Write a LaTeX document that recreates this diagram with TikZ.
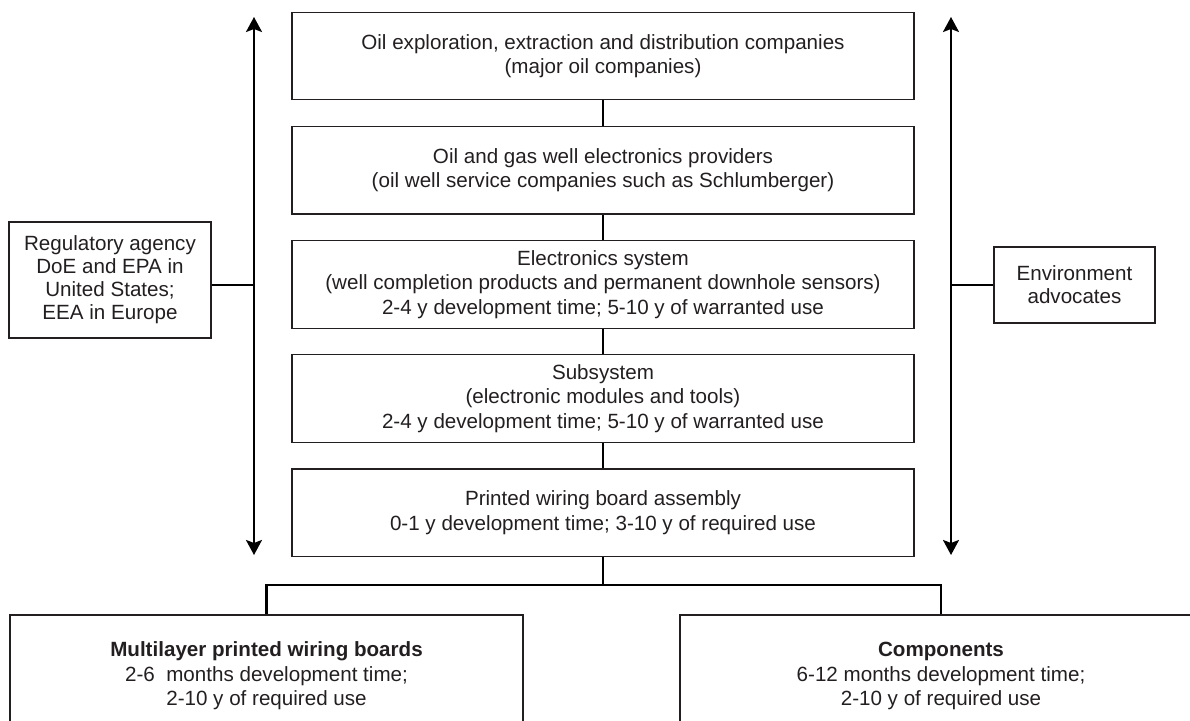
\documentclass[tikz,border=0pt]{standalone}
\usepackage{fontspec}
\setmainfont{Liberation Sans}
\usetikzlibrary{arrows.meta,positioning,calc}
\definecolor{inkgray}{RGB}{35,31,32}
\tikzset{
    tier/.style={
        draw=inkgray,
        line width=0.6pt,
        minimum width=311pt,
        minimum height=43.75pt,
        inner sep=0pt,
        align=center,
        text=inkgray,
        font=\fontsize{10.3}{12.2}\selectfont,
    },
    actor/.style={
        tier,
        minimum width=80pt,
        font=\fontsize{10.3}{11.5}\selectfont,
    },
    wire/.style={
        line width=1.1pt,
        draw=black,
    },
}
\begin{document}
\begin{tikzpicture}[x=0.5pt,y=-0.5pt,node distance=12.75pt,>={Stealth[length=7.5pt,width=8pt,inset=1.5pt]}]
    \useasboundingbox (0,0) rectangle (1190,721);
    \clip (0,0) rectangle (1190,721);
    % supply chain
    \node [tier] (oilco) at (603,56) {Oil exploration, extraction and distribution companies\\(major oil companies)};
    \node [tier] (wellsvc) [below=of oilco] {Oil and gas well electronics providers\\(oil well service companies such as Schlumberger)};
    \node [tier] (esys) [below=of wellsvc] {Electronics system\\(well completion products and permanent downhole sensors)\\2-4 y development time; 5-10 y of warranted use};
    \node [tier] (subsys) [below=of esys] {Subsystem\\(electronic modules and tools)\\2-4 y development time; 5-10 y of warranted use};
    \node [tier] (pwba) [below=of subsys] {Printed wiring board assembly\\0-1 y development time; 3-10 y of required use};
    \foreach \upper/\lower in {oilco/wellsvc,wellsvc/esys,esys/subsys,subsys/pwba}
        \draw [wire] (\upper.south) -- (\lower.north);
    % outside influences
    \node [actor, minimum width=101pt, minimum height=58pt] (regagency) at (110,280) {Regulatory agency\\DoE and EPA in\\United States;\\EEA in Europe};
    \node [actor, minimum width=80.5pt, minimum height=38pt] (envadv) at (1074.5,285) {Environment\\advocates};
    \coordinate (regtop) at (254,17);
    \coordinate (regbot) at (254,555);
    \coordinate (envtop) at (951,17);
    \coordinate (envbot) at (951,555);
    \draw [wire,<->] (regbot) -- (regtop);
    \draw [wire,<->] (envbot) -- (envtop);
    \draw [wire] (regagency.east |- 0,285) -- (regtop |- 0,285);
    \draw [wire] (envadv.west) -- (envadv.west -| envtop);
    % parts
    \node [tier, minimum width=256.5pt, minimum height=61pt] (mlpwb) at (266.5,676) {\textbf{Multilayer printed wiring boards}\\2-6\ \ months development time;\\2-10 y of required use};
    \node [tier, minimum width=261pt, minimum height=61pt] (parts) at (941,676) {\textbf{Components}\\6-12 months development time;\\2-10 y of required use};
    \coordinate (bus) at (603,585);
    \draw [wire] (pwba.south) -- (bus);
    \draw [wire] (mlpwb.north) -- (mlpwb.north |- bus) -- (parts.north |- bus) -- (parts.north);
\end{tikzpicture}
\end{document}
